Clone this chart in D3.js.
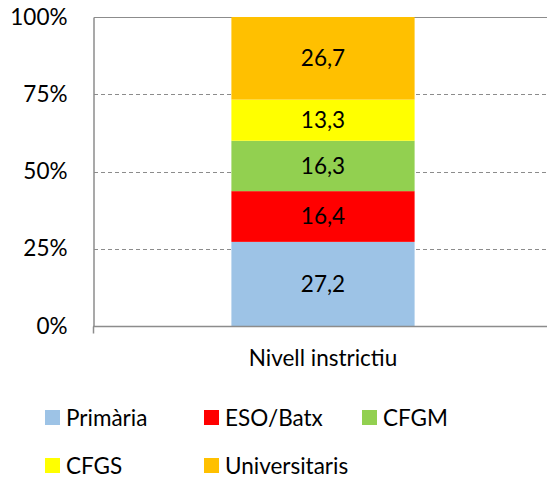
<!DOCTYPE html>
<html>
<head>
<meta charset="utf-8">
<script src="https://cdn.jsdelivr.net/npm/d3@7"></script>
<style>
  body { margin: 0; background: #fff; }
  text { font-family: Lato, "Open Sans", sans-serif; fill: #000; }
</style>
</head>
<body>
<div id="chart"></div>
<script>
// Data
var categories = ["Nivell instrictiu"];
var series = ["Primària", "ESO/Batx", "CFGM", "CFGS", "Universitaris"];
var values = [27.2, 16.4, 16.3, 13.3, 26.7];
var colors = ["#9dc3e6", "#ff0000", "#92d050", "#ffff00", "#ffc000"];
var ticks = [0, 25, 50, 75, 100];

const width = 547, height = 479;
const plot = {left: 94, right: 552, top: 17, bottom: 326};
const font_size = "22.5px";

var svg = d3.select("#chart").append("svg")
    .attr("width", width)
    .attr("height", height);

var x_scale = d3.scaleBand()
    .domain(categories)
    .range([plot.left, plot.right])
    .paddingInner(0.6)
    .paddingOuter(0.3);

var y_scale = d3.scaleLinear()
    .domain([0, 100])
    .range([plot.bottom, plot.top]);

// gridlines
svg.append("g")
    .selectAll("line")
    .data(ticks.filter((d) => d > 0))
    .enter().append("line")
    .attr("x1", plot.left)
    .attr("x2", width)
    .attr("y1", (d) => Math.round(y_scale(d)) + 0.5)
    .attr("y2", (d) => Math.round(y_scale(d)) + 0.5)
    .attr("stroke", "#8c8c8c")
    .attr("stroke-width", 1)
    .attr("stroke-dasharray", (d) => d == 100 ? null : "4,3");

// 100% stacked: normalise to the total
var total = d3.sum(values);
var stacked = [];
var acc = 0;
values.forEach(function(v, i){
    var p = v / total * 100;
    stacked.push({name: series[i], value: v, y0: acc, y1: acc + p, color: colors[i]});
    acc += p;
});

var bars = svg.append("g").attr("class", "bar_group");

bars.selectAll("rect")
    .data(stacked)
    .enter().append("rect")
    .attr("x", x_scale(categories[0]))
    .attr("width", x_scale.bandwidth())
    .attr("y", (d) => y_scale(d.y1))
    .attr("height", (d) => y_scale(d.y0) - y_scale(d.y1))
    .attr("fill", (d) => d.color);

bars.selectAll("text")
    .data(stacked)
    .enter().append("text")
    .attr("x", x_scale(categories[0]) + x_scale.bandwidth() / 2)
    .attr("y", (d) => y_scale((d.y0 + d.y1) / 2))
    .attr("dy", "0.35em")
    .attr("text-anchor", "middle")
    .style("font-size", font_size)
    .text((d) => d.value.toFixed(1).replace(".", ","));

// axes
var y_axis = d3.axisLeft(y_scale)
    .tickValues(ticks)
    .tickSize(0)
    .tickPadding(26)
    .tickFormat((d) => d + "%");

var gy = svg.append("g")
    .attr("transform", "translate(" + (plot.left - 0.5) + ",0)")
    .call(y_axis);
gy.select(".domain").attr("stroke", "#8c8c8c").attr("stroke-width", 1.5);
gy.selectAll("text").style("font-size", font_size).attr("font-family", null);

var x_axis = d3.axisBottom(x_scale)
    .tickSize(0)
    .tickPadding(24);

var gx = svg.append("g")
    .attr("transform", "translate(0," + (plot.bottom + 0.5) + ")")
    .call(x_axis);
gx.select(".domain").remove();
gx.append("line")
    .attr("x1", plot.left - 1)
    .attr("x2", width)
    .attr("stroke", "#8c8c8c")
    .attr("stroke-width", 1.5);
gx.append("line")
    .attr("x1", plot.left - 0.5)
    .attr("x2", plot.left - 0.5)
    .attr("y1", 0)
    .attr("y2", 7)
    .attr("stroke", "#8c8c8c")
    .attr("stroke-width", 1.5);
gx.selectAll("text").style("font-size", font_size).attr("font-family", null);

// legend
var legend_pos = [[45, 410], [204, 410], [362, 410], [45, 458], [204, 458]];

var legend = svg.append("g")
    .selectAll("g")
    .data(stacked)
    .enter().append("g")
    .attr("transform", (d, i) => "translate(" + legend_pos[i][0] + "," + legend_pos[i][1] + ")");

legend.append("rect")
    .attr("width", 15)
    .attr("height", 15)
    .attr("fill", (d) => d.color);

legend.append("text")
    .attr("x", 21)
    .attr("y", 8)
    .attr("dy", "0.35em")
    .style("font-size", font_size)
    .text((d) => d.name);
</script>
</body>
</html>
